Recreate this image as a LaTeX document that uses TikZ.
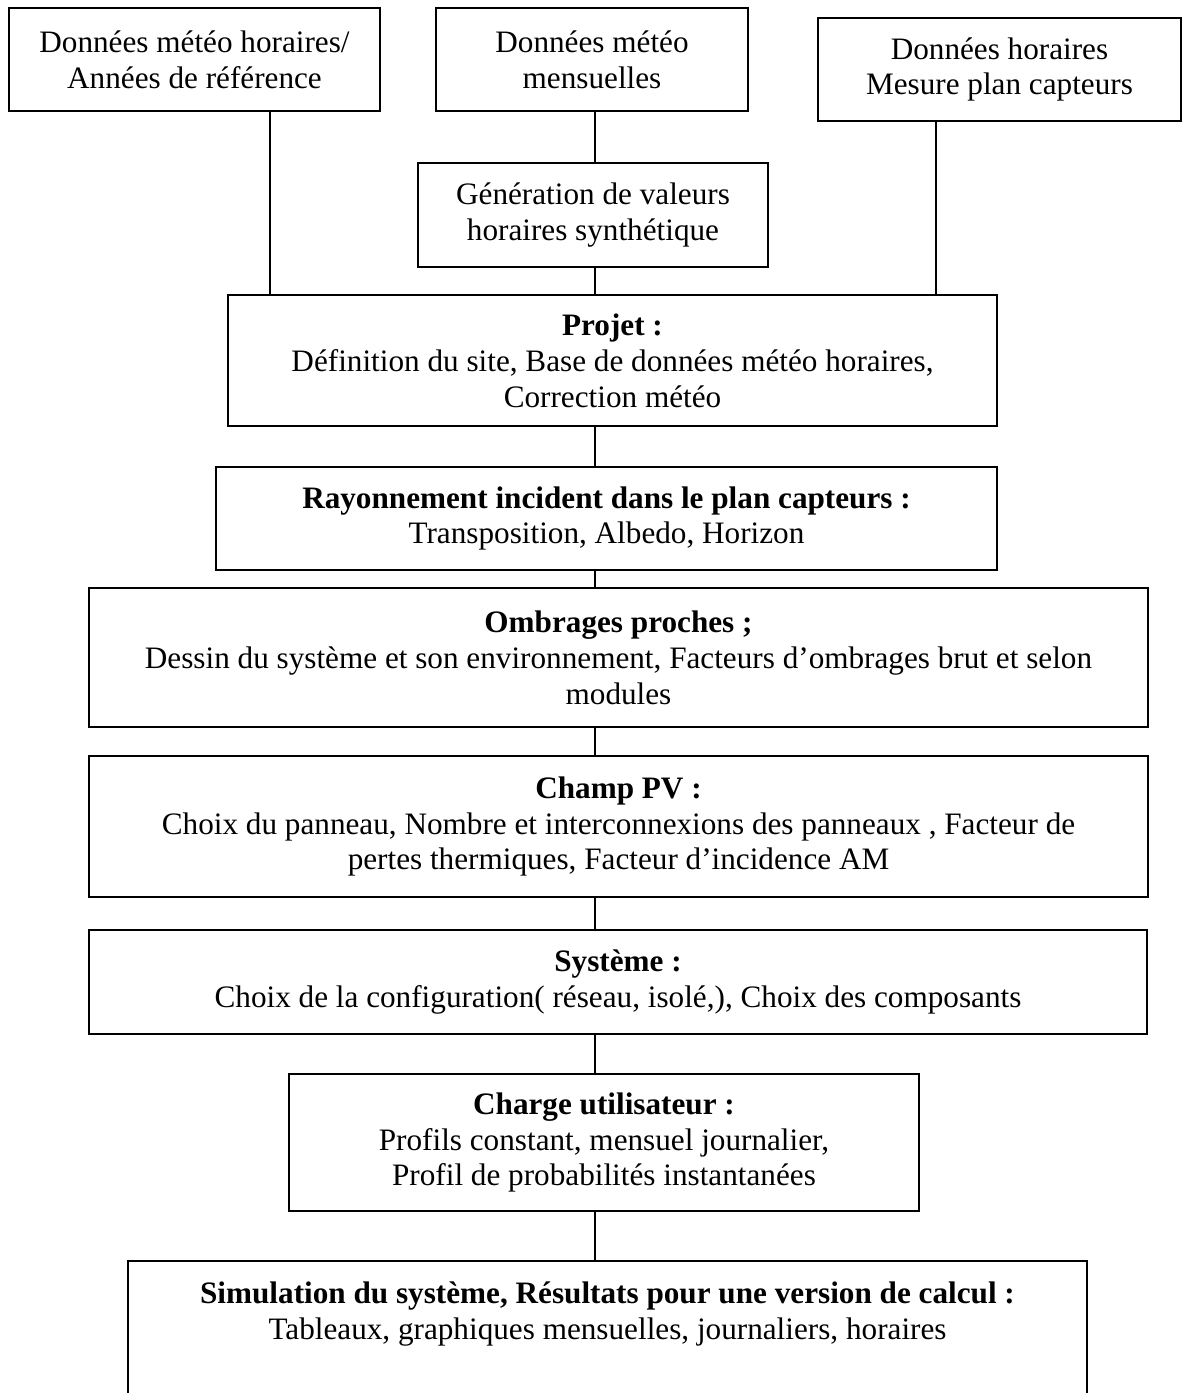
\documentclass[tikz,border=0pt]{standalone}
\usepackage{fontspec}
\setmainfont{Liberation Serif}
\usepackage{tikz}
\usetikzlibrary{positioning}

\tikzset{
    bloc/.style 2 args={draw, line width=0.8pt, align=center, inner sep=0pt,
        minimum width=#1*0.3846pt, minimum height=#2*0.3846pt,
        font=\fontsize{12}{13.8}\selectfont},
    lien/.style={line width=0.6pt}
}

\begin{document}
\begin{tikzpicture}[x=0.3846pt, y=-0.3846pt]
    % Page
    \useasboundingbox (0,0) rectangle (1183,1393);
    \clip (0,0) rectangle (1183,1393);

    % Entrees meteo
    \node[bloc={371}{103}] (meteoh) at (194.5,59.5) {Données météo horaires/\\Années de référence};
    \node[bloc={312}{103}] (meteom) at (592,59.5) {Données météo\\mensuelles};
    \node[bloc={363}{103}] (mesure) at (999.5,69.5) {Données horaires\\Mesure plan capteurs};
    \node[bloc={350}{104}] (gen) at (593,215) {Génération de valeurs\\horaires synthétique};

    % Etapes
    \node[bloc={769}{131}] (projet) at (612.5,360.5) {\textbf{Projet :}\\Définition du site, Base de données météo horaires,\\Correction météo};
    \node[bloc={781}{103}] (rayon) at (606.5,518.5) {\textbf{Rayonnement incident dans le plan capteurs :}\\Transposition, Albedo, Horizon};
    \node[bloc={1059}{139}] (ombr) at (618.5,657.5) {\textbf{Ombrages proches ;}\\Dessin du système et son environnement, Facteurs d’ombrages brut et selon\\modules};
    \node[bloc={1059}{141}] (champ) at (618.5,826.5) {\textbf{Champ PV :}\\Choix du panneau, Nombre et interconnexions des panneaux , Facteur de\\pertes thermiques, Facteur d’incidence AM};
    \node[bloc={1058}{104}] (sys) at (618,982) {\textbf{Système :}\\Choix de la configuration( réseau, isolé,), Choix des composants};
    \node[bloc={630}{137}] (charge) at (604,1142.5) {\textbf{Charge utilisateur :}\\Profils constant, mensuel journalier,\\Profil de probabilités instantanées};
    \node[bloc={959}{200}, anchor=north, inner ysep=8pt, text depth=120pt] (simu) at (607.5,1260) {\textbf{Simulation du système, Résultats pour une version de calcul :}\\Tableaux, graphiques mensuelles, journaliers, horaires};

    % Liaisons
    \coordinate (axe) at (595,0);
    \coordinate (axeg) at (270,0);
    \coordinate (axed) at (936,0);
    \draw[lien] (meteoh.south -| axeg) -- (projet.north -| axeg);
    \draw[lien] (mesure.south -| axed) -- (projet.north -| axed);
    \draw[lien] (meteom.south -| axe) -- (gen.north -| axe);
    \draw[lien] (gen.south -| axe) -- (projet.north -| axe);
    \foreach \a/\b in {projet/rayon, rayon/ombr, ombr/champ, champ/sys, sys/charge, charge/simu} {
        \draw[lien] (\a.south -| axe) -- (\b.north -| axe);
    }
\end{tikzpicture}
\end{document}
